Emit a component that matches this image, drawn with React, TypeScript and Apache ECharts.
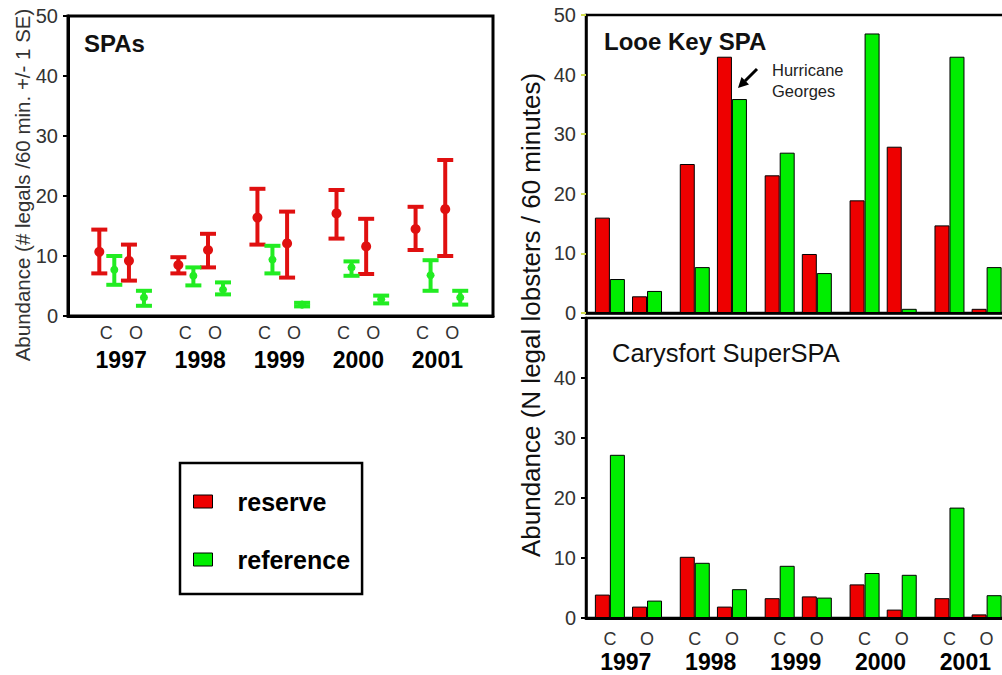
import React, { useEffect, useRef } from "react";
import * as echarts from "echarts";

// ---------- data ----------
const years = ["1997", "1998", "1999", "2000", "2001"];
const sites = ["C", "O"];

// Left panel "SPAs": mean ± 1 SE, ordered 1997C, 1997O, 1998C, 1998O, ...
const spaReserveMean = [10.7, 9.2, 8.5, 11.0, 16.4, 12.1, 17.1, 11.6, 14.5, 17.8];
const spaReserveLow = [7.1, 5.9, 7.1, 8.1, 11.9, 6.4, 12.9, 7.0, 11.0, 10.0];
const spaReserveHigh = [14.4, 11.9, 9.8, 13.7, 21.2, 17.4, 21.0, 16.2, 18.2, 26.0];
const spaReferenceMean = [7.7, 3.1, 6.7, 4.4, 9.4, 1.9, 8.1, 2.8, 6.8, 3.1];
const spaReferenceLow = [5.2, 1.7, 5.1, 3.6, 7.1, 1.6, 6.7, 2.1, 4.2, 1.9];
const spaReferenceHigh = [10.0, 4.2, 8.1, 5.6, 11.7, 2.2, 9.1, 3.4, 9.3, 4.2];

// Right panels: N legal lobsters / 60 min, ordered 1997C, 1997O, 1998C, ...
const looeReserve = [16, 2.8, 25, 43, 23.1, 9.9, 18.9, 27.9, 14.7, 0.7];
const looeReference = [5.7, 3.7, 7.7, 35.9, 26.9, 6.7, 46.9, 0.7, 43, 7.7];
const carysReserve = [3.9, 1.9, 10.2, 1.9, 3.3, 3.6, 5.6, 1.4, 3.3, 0.6];
const carysReference = [27.2, 2.9, 9.2, 4.8, 8.7, 3.4, 7.5, 7.2, 18.4, 3.8];

const seriesNames = ["reserve", "reference"];

// ---------- layout / style ----------
const RED = "#ee0000";
const GREEN = "#00ee00";
const RED_EB = "#e01010";
const GREEN_EB = "#22ec22";
const FONT = "'Liberation Sans', Arial, Helvetica, sans-serif";

// slot grid for category axes (layout only)
const L = { n: 172, first: 15, period: 32, gap: 12 };
const R = { n: 80, first: 4, period: 16, gap: 7 };

function buildAxis(cfg: { n: number; first: number; period: number; gap: number }) {
  const site: (string | null)[] = new Array(cfg.n).fill(null);
  const year: (string | null)[] = new Array(cfg.n).fill(null);
  const slotIdx: number[] = [];
  years.forEach((yr, yi) => {
    sites.forEach((st, si) => {
      const s = cfg.first + yi * cfg.period + si * cfg.gap;
      site[s] = st;
      slotIdx.push(s);
    });
    year[cfg.first + yi * cfg.period + Math.floor(cfg.gap / 2)] = yr;
  });
  const cats = Array.from({ length: cfg.n }, (_, i) => "s" + i);
  return { site, year, slotIdx, cats };
}

const LA = buildAxis(L);
const RA = buildAxis(R);

function toSlots(vals: number[]) {
  const arr: (number | string)[] = new Array(R.n).fill("-");
  vals.forEach((v, k) => (arr[RA.slotIdx[k]] = v));
  return arr;
}

function errData(mean: number[], low: number[], high: number[]) {
  return mean.map((m, k) => [LA.slotIdx[k], m, low[k], high[k]]);
}

const errRender = (color: string, dx: number, r: number) => (params: any, api: any) => {
  const c = api.coord([api.value(0), api.value(1)]);
  const lo = api.coord([api.value(0), api.value(2)]);
  const hi = api.coord([api.value(0), api.value(3)]);
  const x = c[0] + dx;
  const hw = 8;
  const st = { stroke: color, lineWidth: 4 };
  return {
    type: "group",
    children: [
      { type: "line", shape: { x1: x, y1: hi[1], x2: x, y2: lo[1] }, style: st },
      { type: "line", shape: { x1: x - hw, y1: hi[1], x2: x + hw, y2: hi[1] }, style: st },
      { type: "line", shape: { x1: x - hw, y1: lo[1], x2: x + hw, y2: lo[1] }, style: st },
      { type: "circle", shape: { cx: x, cy: c[1], r }, style: { fill: color } },
    ],
  };
};

function siteAxis(grid: number, A: any, margin: number) {
  return {
    gridIndex: grid,
    type: "category",
    data: A.cats,
    axisLine: { lineStyle: { color: "#000", width: 3 } },
    axisTick: {
      alignWithLabel: true,
      interval: (i: number) => A.site[i] !== null,
      length: 5,
      lineStyle: { color: "#000", width: 3 },
    },
    axisLabel: {
      interval: (i: number) => A.site[i] !== null,
      formatter: (_v: string, i: number) => A.site[i] ?? "",
      fontSize: 18,
      color: "#333",
      margin,
    },
    splitLine: { show: false },
  };
}

function yearAxis(grid: number, A: any, offset: number) {
  return {
    gridIndex: grid,
    type: "category",
    data: A.cats,
    position: "bottom",
    offset,
    axisLine: { show: false },
    axisTick: { show: false },
    axisLabel: {
      interval: (i: number) => A.year[i] !== null,
      formatter: (_v: string, i: number) => A.year[i] ?? "",
      fontSize: 23,
      fontWeight: "bold",
      color: "#000",
      margin: 8,
    },
    splitLine: { show: false },
  };
}

function valAxis(grid: number, tickColor: string, hideTop: boolean, lineW: number) {
  return {
    gridIndex: grid,
    type: "value",
    min: 0,
    max: 50,
    interval: 10,
    axisLine: { show: true, lineStyle: { color: "#000", width: lineW } },
    axisTick: { show: true, length: 5, lineStyle: { color: tickColor, width: 2 } },
    axisLabel: {
      fontSize: 20,
      color: "#333",
      margin: 10,
      formatter: (v: number) => (hideTop && v === 50 ? "" : String(v)),
    },
    splitLine: { show: false },
  };
}

function barSeries(name: string, color: string, xi: number, yi: number, vals: number[]) {
  return {
    name,
    type: "bar",
    xAxisIndex: xi,
    yAxisIndex: yi,
    data: toSlots(vals),
    barWidth: 15,
    barGap: "0%",
    itemStyle: { color, borderColor: "#000", borderWidth: 1 },
  };
}

export default function App() {
  const ref = useRef<HTMLDivElement>(null);

  useEffect(() => {
    if (!ref.current) return;
    const chart = echarts.init(ref.current, undefined, { renderer: "svg" });
    const option: any = {
      animation: false,
      textStyle: { fontFamily: FONT },
      grid: [
        { left: 68, top: 16, width: 425, height: 300, show: true, borderColor: "#000", borderWidth: 3 },
        { left: 586, top: 15, width: 424.5, height: 298, show: true, borderColor: "#000", borderWidth: 2.5 },
        { left: 586, top: 318, width: 424.5, height: 300, show: true, borderColor: "#000", borderWidth: 2.5 },
      ],
      xAxis: [
        siteAxis(0, LA, 8),
        yearAxis(0, LA, 24),
        {
          gridIndex: 1,
          type: "category",
          data: RA.cats,
          axisLine: { lineStyle: { color: "#000", width: 2.5 } },
          axisTick: { show: false },
          axisLabel: { show: false },
        },
        siteAxis(2, RA, 12),
        yearAxis(2, RA, 24),
      ],
      yAxis: [valAxis(0, "#000", false, 3), valAxis(1, "#d2dc50", false, 2.5), valAxis(2, "#000", true, 2.5)],
      legend: {
        left: 180,
        top: 463,
        orient: "vertical",
        itemWidth: 19,
        itemHeight: 13,
        itemGap: 33,
        padding: [26, 12, 22, 13],
        borderColor: "#000",
        borderWidth: 2.5,
        selectedMode: false,
        textStyle: { fontSize: 25, fontWeight: "bold", color: "#000", padding: [0, 0, 0, 20] },
        data: [
          { name: seriesNames[0], icon: "rect", itemStyle: { color: RED, borderColor: "#000", borderWidth: 1 } },
          { name: seriesNames[1], icon: "rect", itemStyle: { color: GREEN, borderColor: "#000", borderWidth: 1 } },
        ],
      },
      graphic: [
        {
          type: "text",
          x: 22,
          y: 185,
          rotation: Math.PI / 2,
          style: {
            text: "Abundance (# legals /60 min. +/- 1 SE)",
            fontSize: 20.5,
            fontFamily: FONT,
            fill: "#333",
            align: "center",
            verticalAlign: "middle",
          },
        },
        {
          type: "text",
          x: 531,
          y: 315,
          rotation: Math.PI / 2,
          style: {
            text: "Abundance (N legal lobsters / 60 minutes)",
            fontSize: 26,
            fontFamily: FONT,
            fill: "#111",
            align: "center",
            verticalAlign: "middle",
          },
        },
        {
          type: "text",
          x: 84,
          y: 43,
          style: { text: "SPAs", fontSize: 24, fontWeight: "bold", fontFamily: FONT, fill: "#111", align: "left", verticalAlign: "middle" },
        },
        {
          type: "text",
          x: 604,
          y: 41,
          style: { text: "Looe Key SPA", fontSize: 24, fontWeight: "bold", fontFamily: FONT, fill: "#111", align: "left", verticalAlign: "middle" },
        },
        {
          type: "text",
          x: 612,
          y: 353,
          style: { text: "Carysfort SuperSPA", fontSize: 25.5, fontFamily: FONT, fill: "#111", align: "left", verticalAlign: "middle" },
        },
        {
          type: "text",
          x: 772,
          y: 59,
          style: {
            text: "Hurricane\nGeorges",
            fontSize: 16.5,
            lineHeight: 21,
            fontFamily: FONT,
            fill: "#222",
            align: "left",
            verticalAlign: "top",
          },
        },
        {
          type: "line",
          shape: { x1: 757, y1: 69, x2: 745, y2: 81 },
          style: { stroke: "#000", lineWidth: 3 },
        },
        {
          type: "polygon",
          shape: { points: [[738, 88], [741.5, 77], [749, 84.5]] },
          style: { fill: "#000" },
        },
      ],
      series: [
        {
          name: seriesNames[0],
          type: "custom",
          xAxisIndex: 0,
          yAxisIndex: 0,
          renderItem: errRender(RED_EB, -7, 5),
          encode: { x: 0, y: [1, 2, 3] },
          itemStyle: { color: RED },
          data: errData(spaReserveMean, spaReserveLow, spaReserveHigh),
        },
        {
          name: seriesNames[1],
          type: "custom",
          xAxisIndex: 0,
          yAxisIndex: 0,
          renderItem: errRender(GREEN_EB, 8, 4),
          encode: { x: 0, y: [1, 2, 3] },
          itemStyle: { color: GREEN },
          data: errData(spaReferenceMean, spaReferenceLow, spaReferenceHigh),
        },
        barSeries(seriesNames[0], RED, 2, 1, looeReserve),
        barSeries(seriesNames[1], GREEN, 2, 1, looeReference),
        barSeries(seriesNames[0], RED, 3, 2, carysReserve),
        barSeries(seriesNames[1], GREEN, 3, 2, carysReference),
      ],
    };
    chart.setOption(option);
    return () => chart.dispose();
  }, []);

  return (
    <div
      style={{
        position: "absolute",
        left: 0,
        top: 0,
        width: 1002,
        height: 675,
        overflow: "hidden",
        background: "#fff",
      }}
    >
      <div ref={ref} style={{ width: 1024, height: 675 }} />
    </div>
  );
}
